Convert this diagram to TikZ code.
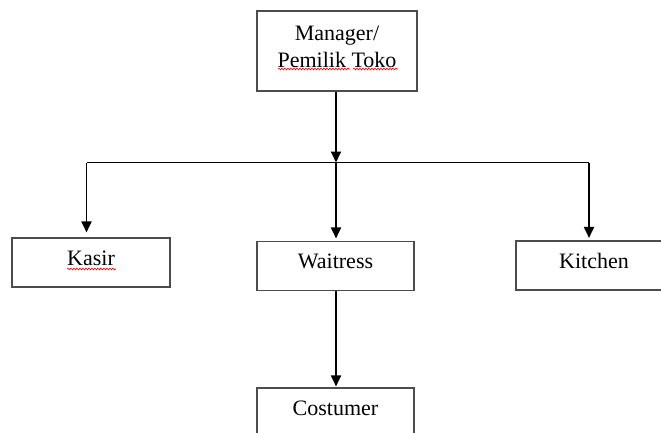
\documentclass[tikz,border=0pt]{standalone}
\usepackage{fontspec}
\setmainfont{Liberation Serif}
\usetikzlibrary{arrows.meta,decorations.pathmorphing}
\begin{document}
\begin{tikzpicture}[x=1pt,y=-1pt,
  box/.style={draw=black!70,line width=1.1pt,minimum height=49pt,inner sep=0pt,
    font=\fontsize{22}{27}\selectfont,text height=15pt,text depth=10pt},
  arr/.style={line width=1.8pt,-{Triangle[length=11pt,width=10pt]}},
  ln/.style={line width=1.8pt},
  spell/.style={red,line width=0.6pt,decorate,decoration={snake,segment length=3pt,amplitude=0.9pt}}]
\clip (0,0) rectangle (661,433);
\fill[white] (0,0) rectangle (661,433);
% boxes
\node[box,minimum width=160pt,minimum height=80pt,text height=0pt,text depth=0pt] (mgr) at (337,51) {};
\node[font=\fontsize{22}{27}\selectfont,align=center,inner sep=0pt] (mgrtext) at (337,46.5) {Manager/\\Pemilik Toko};
\node[box,minimum width=158pt] (kasir) at (91,262.5) {Kasir};
\node[box,minimum width=157pt] (wait) at (335.5,266) {Waitress};
\node[box,minimum width=156pt] (kit) at (594,265.5) {Kitchen};
\node[box,minimum width=157pt] (cost) at (335.5,412.5) {Costumer};
% spelling marks
\draw[spell] (278,69) -- (350,69);
\draw[spell] (353,69) -- (398,69);
\draw[spell] (67,269) -- (116,269);
% connectors
\coordinate (J) at (336,162.5);
\coordinate (hl) at (86.5,162.5);
\coordinate (hr) at (589,162.5);
\draw[arr] (mgr.south -| J) -- (J);
\draw[ln] (hl) -- (hr);
\draw[arr,shorten >=5pt] (hl) -- (kasir.north -| hl);
\draw[arr,shorten >=2.5pt] (J) -- (wait.north -| J);
\draw[arr,shorten >=2.5pt] (hr) -- (kit.north -| hr);
\draw[arr,shorten >=1pt] (wait.south -| J) -- (cost.north -| J);
\end{tikzpicture}
\end{document}
